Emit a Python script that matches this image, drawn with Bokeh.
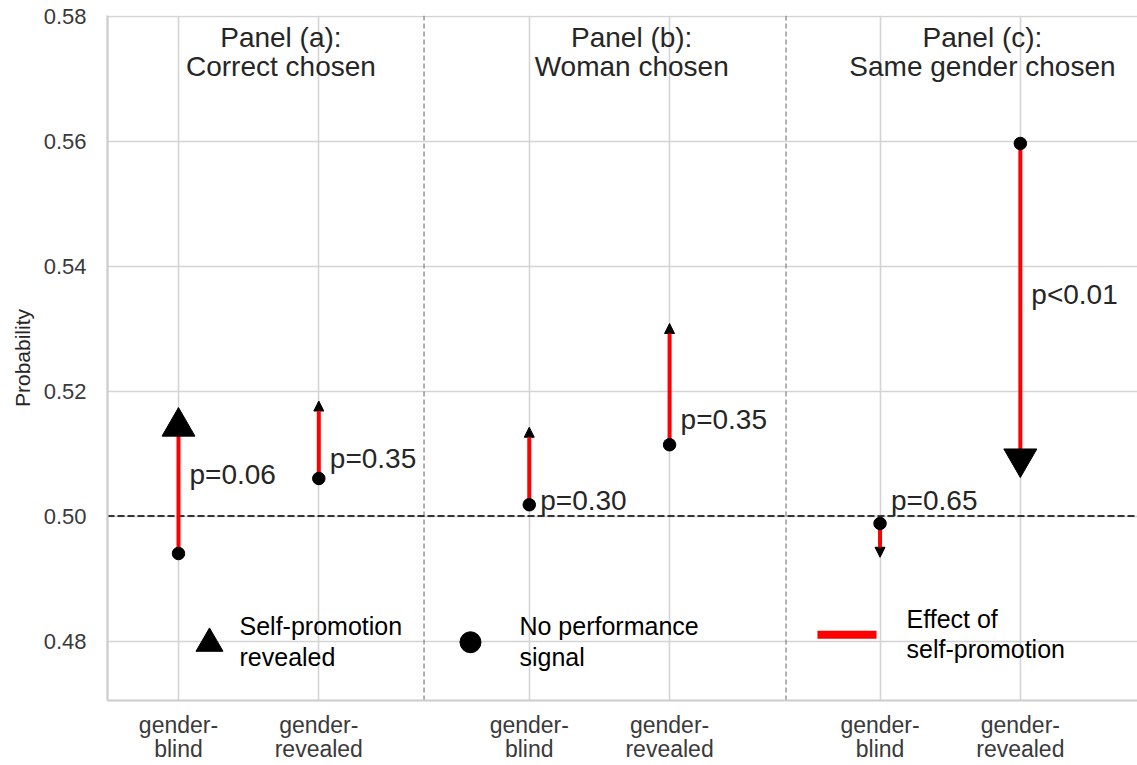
from bokeh.plotting import figure
from bokeh.models import (Range1d, FixedTicker, Span, Arrow, NormalHead,
                          ColumnDataSource, NumeralTickFormatter)
from bokeh.embed import file_html
from bokeh.resources import INLINE
from bokeh.core.properties import value

# ---------------- data ----------------
panel_line1 = ["Panel (a):", "Panel (b):", "Panel (c):"]
panel_line2 = ["Correct chosen", "Woman chosen", "Same gender chosen"]
conditions = ["gender-\nblind", "gender-\nrevealed"]
no_signal = [0.4940, 0.5060, 0.5018, 0.5114, 0.4988, 0.5596]      # circle
self_promo = [0.5143, 0.5184, 0.5142, 0.5308, 0.4934, 0.5092]     # arrow end
p_labels = ["p=0.06", "p=0.35", "p=0.30", "p=0.35", "p=0.65", "p<0.01"]
significant = [True, False, False, False, False, True]
y_ticks = [0.48, 0.50, 0.52, 0.54, 0.56, 0.58]
legend_labels = [["Self-promotion", "revealed"],
                 ["No performance", "signal"],
                 ["Effect of", "self-promotion"]]

# ---------------- layout helpers ----------------
GAP = 2.5
xs = [pi * GAP + k for pi in range(3) for k in range(2)]
tick_labels = {x: conditions[i % 2] for i, x in enumerate(xs)}
dividers = [1.75, 4.33]
SH = 0.0015   # baseline correction for text placement
p_label_y = [v + SH for v in [0.5052, 0.5077, 0.5010, 0.5140, 0.5010, 0.5340]]
FONT = value("Liberation Sans")
TXT = "#262626"

p = figure(width=1137, height=765,
           x_range=Range1d(-0.506, 6.835), y_range=Range1d(0.47048, 0.58008),
           output_backend="svg", toolbar_location=None,
           min_border_left=107, min_border_right=0,
           min_border_top=15, min_border_bottom=65)
p.outline_line_color = None
p.background_fill_color = "white"
p.border_fill_color = "white"

# grid
p.xgrid.ticker = FixedTicker(ticks=xs)
p.ygrid.ticker = FixedTicker(ticks=y_ticks)
for g in (p.xgrid, p.ygrid):
    g.grid_line_color = "#d4d4d4"
    g.grid_line_width = 1.6

# axes
xa = p.xaxis[0]
xa.ticker = FixedTicker(ticks=xs)
xa.major_label_overrides = tick_labels
xa.major_label_text_font = "Liberation Sans"
xa.major_label_text_font_size = "23px"
xa.major_label_text_color = "#3a3a3a"
xa.major_label_text_line_height = 0.95
xa.major_label_standoff = 11
ya = p.yaxis[0]
ya.ticker = FixedTicker(ticks=y_ticks)
ya.formatter = NumeralTickFormatter(format="0.00")
ya.major_label_text_font = "Liberation Sans"
ya.major_label_text_font_size = "22px"
ya.major_label_text_color = "#3a3a3a"
ya.major_label_standoff = 21
ya.axis_label = "Probability"
ya.axis_label_text_font = "Liberation Sans"
ya.axis_label_text_font_size = "21px"
ya.axis_label_text_font_style = "normal"
ya.axis_label_text_color = TXT
ya.axis_label_standoff = 7
for ax in (xa, ya):
    ax.major_tick_out = 0
    ax.major_tick_in = 0
    ax.minor_tick_out = 0
    ax.minor_tick_in = 0
    ax.axis_line_color = "#cccccc"
    ax.axis_line_width = 2.2

# reference lines
for d in dividers:
    p.add_layout(Span(location=d, dimension="height", line_color="#888888",
                      line_dash="5 3", line_width=1.3, level="underlay"))
p.add_layout(Span(location=0.50, dimension="width", line_color="#333333",
                  line_dash="7 3", line_width=1.8, level="underlay"))

# arrows (non-significant: small arrow heads)
ns = [i for i in range(6) if not significant[i]]
src_small = ColumnDataSource(dict(x=[xs[i] for i in ns],
                                  y0=[no_signal[i] for i in ns],
                                  y1=[self_promo[i] for i in ns]))
p.add_layout(Arrow(end=NormalHead(size=10, fill_color="black", line_color="black",
                                  line_width=1),
                   x_start="x", y_start="y0", x_end="x", y_end="y1",
                   source=src_small, line_color="red", line_width=4, level="underlay"))

# significant: red line + large triangle marker
sg = [i for i in range(6) if significant[i]]
src_big = ColumnDataSource(dict(
    x=[xs[i] for i in sg],
    y0=[no_signal[i] for i in sg],
    y1=[self_promo[i] for i in sg],
    marker=["triangle" if self_promo[i] > no_signal[i] else "inverted_triangle" for i in sg]))
p.segment(x0="x", y0="y0", x1="x", y1="y1", source=src_big, line_color="red", line_width=4)

# circles
p.scatter(xs, no_signal, marker="circle", size=12.5, color="black")
p.scatter(x="x", y="y1", marker="marker", source=src_big, size=33, color="black")

# p-value labels
p.text(x=xs, y=p_label_y, text=p_labels, x_offset=11, text_font=FONT,
       text_font_size="28px", text_color=TXT, text_baseline="alphabetic",
       text_align="left")

# panel titles
tx = [pi * GAP + 0.5 + 0.23 for pi in range(3)]
p.text(x=tx, y=[0.5751 + SH] * 3, text=panel_line1, text_font=FONT, text_font_size="28px",
       text_color=TXT, text_align="center", text_baseline="alphabetic")
p.text(x=tx, y=[0.5705 + SH] * 3, text=panel_line2, text_font=FONT, text_font_size="28px",
       text_color=TXT, text_align="center", text_baseline="alphabetic")

# legend (manual)
p.scatter([0.221], [0.4796], marker="triangle", size=27, color="black")
p.scatter([2.081], [0.4798], marker="circle", size=21, color="black")
p.segment(x0=[4.554], y0=[0.4810], x1=[4.975], y1=[0.4810], line_color="red", line_width=8)
leg_x = [0.435, 2.430, 5.189]
leg_y1 = [v + SH for v in [0.4809, 0.4809, 0.4820]]
leg_y2 = [v + SH for v in [0.4759, 0.4759, 0.4772]]
p.text(x=leg_x, y=leg_y1, text=[l[0] for l in legend_labels], text_font=FONT,
       text_font_size="25px", text_color="black", text_baseline="alphabetic")
p.text(x=leg_x, y=leg_y2, text=[l[1] for l in legend_labels], text_font=FONT,
       text_font_size="25px", text_color="black", text_baseline="alphabetic")

open("out.html", "w").write(file_html(p, INLINE))
